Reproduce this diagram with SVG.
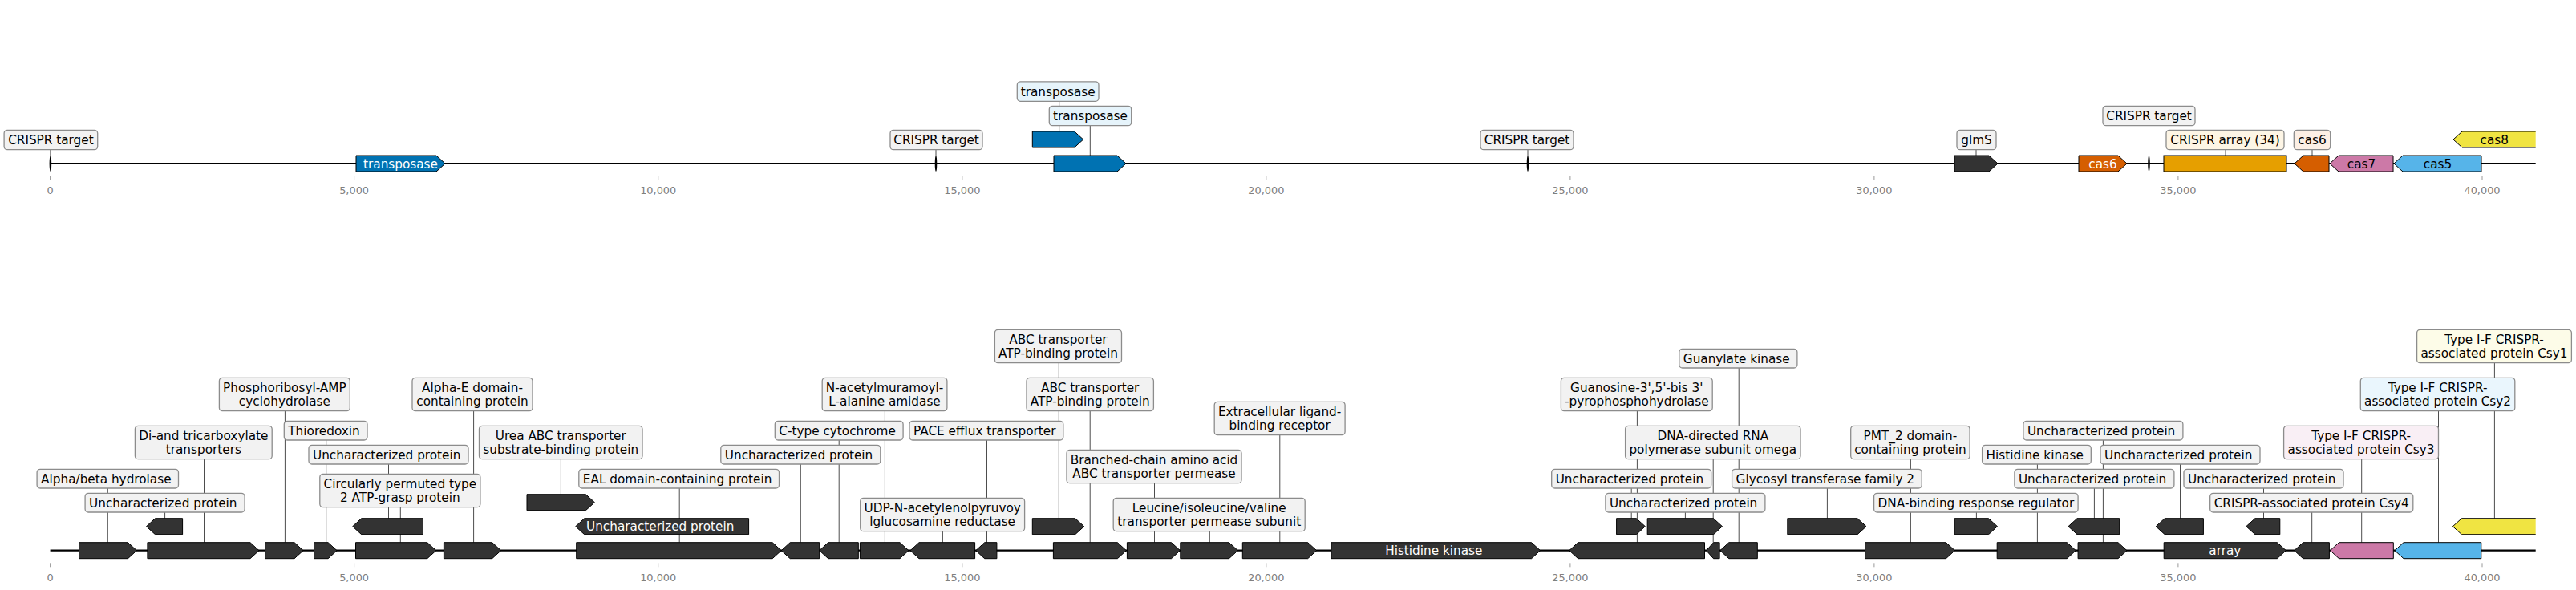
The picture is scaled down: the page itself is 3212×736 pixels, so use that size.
<svg xmlns="http://www.w3.org/2000/svg" width="3212" height="736" viewBox="0 0 3212 736">
<style>
.ax{stroke:#000;stroke-width:2.2;fill:none}
.tk{stroke:#999;stroke-width:1}
.tl{font-family:'DejaVu Sans',sans-serif;font-size:12.9px;fill:#808080;text-anchor:middle}
.cn{stroke:#4d4d4d;stroke-width:1;fill:none}
.ft{stroke:#000;stroke-width:1}
.k{fill:#333333}.bl{fill:#0072B2}.or{fill:#D55E00}.ye{fill:#E69F00}.pk{fill:#CC79A7}.sk{fill:#56B4E9}.yl{fill:#F0E442}
.bx{stroke:#8c8c8c;stroke-width:1.3}
.bg{fill:#f2f2f2}.bbl{fill:#e6f4fb}.bye{fill:#fdf5e5}.bor{fill:#fcefe5}.bpk{fill:#f9eff5}.bsk{fill:#eaf6fd}.byl{fill:#fdfce8}
.t{font-family:'DejaVu Sans',sans-serif;font-size:15.28px;fill:#000}
.m{text-anchor:middle}
.w{fill:#fff}
</style>
<defs>
<clipPath id="clipR"><rect x="0" y="0" width="3161.7" height="736"/></clipPath>
</defs>
<rect x="0" y="0" width="3212" height="736" fill="#fff"/>

<g id="axis-top">
<line class="ax" x1="62.6" y1="204" x2="3161.7" y2="204"/>
<g class="tk">
<line x1="62.6" y1="219.3" x2="62.6" y2="224"/><line x1="441.6" y1="219.3" x2="441.6" y2="224"/><line x1="820.7" y1="219.3" x2="820.7" y2="224"/><line x1="1199.8" y1="219.3" x2="1199.8" y2="224"/><line x1="1578.8" y1="219.3" x2="1578.8" y2="224"/><line x1="1957.9" y1="219.3" x2="1957.9" y2="224"/><line x1="2336.9" y1="219.3" x2="2336.9" y2="224"/><line x1="2715.9" y1="219.3" x2="2715.9" y2="224"/><line x1="3095" y1="219.3" x2="3095" y2="224"/>
</g>
<g class="tl">
<text x="62.6" y="241.7">0</text><text x="441.6" y="241.7">5,000</text><text x="820.7" y="241.7">10,000</text><text x="1199.8" y="241.7">15,000</text><text x="1578.8" y="241.7">20,000</text><text x="1957.9" y="241.7">25,000</text><text x="2336.9" y="241.7">30,000</text><text x="2715.9" y="241.7">35,000</text><text x="3095" y="241.7">40,000</text>
</g>
</g>

<g id="axis-bottom">
<line class="ax" x1="62.6" y1="686.7" x2="3161.7" y2="686.7"/>
<g class="tk">
<line x1="62.6" y1="702.3" x2="62.6" y2="707.3"/><line x1="441.6" y1="702.3" x2="441.6" y2="707.3"/><line x1="820.7" y1="702.3" x2="820.7" y2="707.3"/><line x1="1199.8" y1="702.3" x2="1199.8" y2="707.3"/><line x1="1578.8" y1="702.3" x2="1578.8" y2="707.3"/><line x1="1957.9" y1="702.3" x2="1957.9" y2="707.3"/><line x1="2336.9" y1="702.3" x2="2336.9" y2="707.3"/><line x1="2715.9" y1="702.3" x2="2715.9" y2="707.3"/><line x1="3095" y1="702.3" x2="3095" y2="707.3"/>
</g>
<g class="tl">
<text x="62.6" y="725">0</text><text x="441.6" y="725">5,000</text><text x="820.7" y="725">10,000</text><text x="1199.8" y="725">15,000</text><text x="1578.8" y="725">20,000</text><text x="1957.9" y="725">25,000</text><text x="2336.9" y="725">30,000</text><text x="2715.9" y="725">35,000</text><text x="3095" y="725">40,000</text>
</g>
</g>

<g id="connectors" class="cn">
<line x1="62.9" y1="186.7" x2="62.9" y2="194"/>
<line x1="1167" y1="186.7" x2="1167" y2="194"/>
<line x1="1320.7" y1="126.3" x2="1320.7" y2="164"/>
<line x1="1359.3" y1="156.7" x2="1359.3" y2="194"/>
<line x1="1905" y1="186.7" x2="1905" y2="194"/>
<line x1="2464" y1="186.7" x2="2464" y2="194"/>
<line x1="2679.5" y1="156.7" x2="2679.5" y2="194"/>
<line x1="2775" y1="186.7" x2="2775" y2="194"/>
<line x1="2883" y1="186.7" x2="2883" y2="194"/>
<line x1="134.3" y1="609" x2="134.3" y2="676.7"/>
<line x1="205.6" y1="639" x2="205.6" y2="646.7"/>
<line x1="254.5" y1="572.7" x2="254.5" y2="676.7"/>
<line x1="355.4" y1="512.7" x2="355.4" y2="676.7"/>
<line x1="406.7" y1="549" x2="406.7" y2="676.7"/>
<line x1="484.5" y1="579" x2="484.5" y2="646.7"/>
<line x1="499.3" y1="632.7" x2="499.3" y2="676.7"/>
<line x1="590.6" y1="512.7" x2="590.6" y2="676.7"/>
<line x1="699.4" y1="572.7" x2="699.4" y2="616.7"/>
<line x1="847.2" y1="609" x2="847.2" y2="676.7"/>
<line x1="998.3" y1="579" x2="998.3" y2="676.7"/>
<line x1="1046.2" y1="549" x2="1046.2" y2="676.7"/>
<line x1="1103.4" y1="512.7" x2="1103.4" y2="676.7"/>
<line x1="1175.4" y1="662.7" x2="1175.4" y2="676.7"/>
<line x1="1230.5" y1="549" x2="1230.5" y2="676.7"/>
<line x1="1320.3" y1="452.7" x2="1320.3" y2="646.7"/>
<line x1="1359.2" y1="512.7" x2="1359.2" y2="676.7"/>
<line x1="1439.5" y1="602.7" x2="1439.5" y2="676.7"/>
<line x1="1508.3" y1="662.7" x2="1508.3" y2="676.7"/>
<line x1="1595.8" y1="542.7" x2="1595.8" y2="676.7"/>
<line x1="2034.2" y1="609" x2="2034.2" y2="646.7"/>
<line x1="2041.4" y1="512.7" x2="2041.4" y2="676.7"/>
<line x1="2101.4" y1="639" x2="2101.4" y2="646.7"/>
<line x1="2136.2" y1="572.7" x2="2136.2" y2="676.7"/>
<line x1="2168.2" y1="459" x2="2168.2" y2="676.7"/>
<line x1="2278.4" y1="609" x2="2278.4" y2="646.7"/>
<line x1="2382.4" y1="572.7" x2="2382.4" y2="676.7"/>
<line x1="2464.4" y1="639" x2="2464.4" y2="646.7"/>
<line x1="2540.4" y1="579" x2="2540.4" y2="676.7"/>
<line x1="2611.4" y1="609" x2="2611.4" y2="646.7"/>
<line x1="2622.4" y1="549" x2="2622.4" y2="676.7"/>
<line x1="2718.5" y1="579" x2="2718.5" y2="646.7"/>
<line x1="2822.5" y1="609" x2="2822.5" y2="646.7"/>
<line x1="2882.7" y1="639" x2="2882.7" y2="676.7"/>
<line x1="2944.7" y1="572.7" x2="2944.7" y2="676.7"/>
<line x1="3040.5" y1="512.7" x2="3040.5" y2="676.7"/>
<line x1="3110.4" y1="452.7" x2="3110.4" y2="646.7"/>
</g>

<!-- top track nodes -->
<g id="t-crispr-target-1"><ellipse cx="62.9" cy="204" rx="1.3" ry="10" fill="#000"/><rect class="bx bg" x="5.1" y="162.3" width="116.6" height="24.4" rx="4"/><text class="t m" x="63.4" y="180">CRISPR target</text></g>
<g id="t-transposase-1"><polygon class="ft bl" points="444,194 544,194 555,204 544,214 444,214"/><text class="t m w" x="499.5" y="209.5">transposase</text></g>
<g id="t-crispr-target-2"><ellipse cx="1167" cy="204" rx="1.3" ry="10" fill="#000"/><rect class="bx bg" x="1110" y="162.3" width="115" height="24.4" rx="4"/><text class="t m" x="1167.5" y="180">CRISPR target</text></g>
<g id="t-transposase-2"><polygon class="ft bl" points="1287.3,164 1339.7,164 1350.7,174 1339.7,184 1287.3,184"/><rect class="bx bbl" x="1268.3" y="101.9" width="101.7" height="24.4" rx="4"/><text class="t m" x="1319.15" y="119.6">transposase</text></g>
<g id="t-transposase-3"><polygon class="ft bl" points="1314,194 1393,194 1404,204 1393,214 1314,214"/><rect class="bx bbl" x="1308.3" y="132.3" width="102.4" height="24.4" rx="4"/><text class="t m" x="1359.5" y="150">transposase</text></g>
<g id="t-crispr-target-3"><ellipse cx="1905" cy="204" rx="1.3" ry="10" fill="#000"/><rect class="bx bg" x="1846" y="162.3" width="116" height="24.4" rx="4"/><text class="t m" x="1904" y="180">CRISPR target</text></g>
<g id="t-glmS"><polygon class="ft k" points="2437,194 2480,194 2491,204 2480,214 2437,214"/><rect class="bx bg" x="2440" y="162.3" width="49" height="24.4" rx="4"/><text class="t m" x="2464.5" y="180">glmS</text></g>
<g id="t-cas6-1"><polygon class="ft or" points="2592,194 2641,194 2652,204 2641,214 2592,214"/><text class="t m w" x="2622" y="209.5">cas6</text></g>
<g id="t-crispr-target-4"><ellipse cx="2679.5" cy="204" rx="1.3" ry="10" fill="#000"/><rect class="bx bg" x="2622" y="132.3" width="115" height="24.4" rx="4"/><text class="t m" x="2679.5" y="150">CRISPR target</text></g>
<g id="t-crispr-array"><rect class="ft ye" x="2698" y="194" width="153" height="20"/><rect class="bx bye" x="2701" y="162.3" width="147" height="24.4" rx="4"/><text class="t m" x="2774.5" y="180">CRISPR array (34)</text></g>
<g id="t-cas6-2"><polygon class="ft or" points="2904,194 2872,194 2861,204 2872,214 2904,214"/><rect class="bx bor" x="2860.3" y="162.3" width="45.4" height="24.4" rx="4"/><text class="t m" x="2883" y="180">cas6</text></g>
<g id="t-cas7"><polygon class="ft pk" points="2984,194 2916,194 2905,204 2916,214 2984,214"/><text class="t m" x="2944.5" y="209.5">cas7</text></g>
<g id="t-cas5"><polygon class="ft sk" points="3094,194 2996,194 2985,204 2996,214 3094,214"/><text class="t m" x="3039.5" y="209.5">cas5</text></g>
<g id="t-cas8" clip-path="url(#clipR)"><polygon class="ft yl" points="3164,164 3070,164 3059,174 3070,184 3164,184"/><text class="t m" x="3110.3" y="179.5">cas8</text></g>

<!-- bottom track nodes -->
<g id="b1"><polygon class="ft k" points="98.5,676.7 159.5,676.7 170.5,686.7 159.5,696.7 98.5,696.7"/><rect class="bx bg" x="46.1" y="585.3" width="176.4" height="23.7" rx="4"/><text class="t" x="51.1" y="602.65">Alpha/beta hydrolase</text></g>
<g id="b2"><polygon class="ft k" points="183.9,676.7 312,676.7 323,686.7 312,696.7 183.9,696.7"/><rect class="bx bg" x="168.4" y="531.3" width="170.8" height="41.4" rx="4"/><text class="t m" x="253.8" y="549.15">Di-and tricarboxylate</text><text class="t m" x="253.8" y="565.85">transporters</text></g>
<g id="b3"><polygon class="ft k" points="330.6,676.7 367.1,676.7 378.1,686.7 367.1,696.7 330.6,696.7"/><rect class="bx bg" x="273.4" y="471.3" width="162.9" height="41.4" rx="4"/><text class="t m" x="354.85" y="489.15">Phosphoribosyl-AMP</text><text class="t m" x="354.85" y="505.85">cyclohydrolase</text></g>
<g id="b4"><polygon class="ft k" points="391.5,676.7 409.1,676.7 420.1,686.7 409.1,696.7 391.5,696.7"/><rect class="bx bg" x="354.3" y="525.3" width="103.7" height="23.7" rx="4"/><text class="t" x="359.3" y="542.65">Thioredoxin</text></g>
<g id="b5"><polygon class="ft k" points="443.5,676.7 532.8,676.7 543.8,686.7 532.8,696.7 443.5,696.7"/><rect class="bx bg" x="398.8" y="591.3" width="200.1" height="41.4" rx="4"/><text class="t m" x="498.85" y="609.15">Circularly permuted type</text><text class="t m" x="498.85" y="625.85">2 ATP-grasp protein</text></g>
<g id="b6"><polygon class="ft k" points="227.6,646.7 193.5,646.7 182.5,656.7 193.5,666.7 227.6,666.7"/><rect class="bx bg" x="106.1" y="615.3" width="199" height="23.7" rx="4"/><text class="t" x="111.1" y="632.65">Uncharacterized protein</text></g>
<g id="b7"><polygon class="ft k" points="527.5,646.7 450.7,646.7 439.7,656.7 450.7,666.7 527.5,666.7"/><rect class="bx bg" x="385" y="555.3" width="199" height="23.7" rx="4"/><text class="t" x="390" y="572.65">Uncharacterized protein</text></g>
<g id="b8"><polygon class="ft k" points="553.4,676.7 613.7,676.7 624.7,686.7 613.7,696.7 553.4,696.7"/><rect class="bx bg" x="514" y="471.3" width="150" height="41.4" rx="4"/><text class="t m" x="589" y="489.15">Alpha-E domain-</text><text class="t m" x="589" y="505.85">containing protein</text></g>
<g id="b9"><polygon class="ft k" points="718.7,676.7 963.2,676.7 974.2,686.7 963.2,696.7 718.7,696.7"/><rect class="bx bg" x="721.8" y="585.3" width="249.7" height="23.7" rx="4"/><text class="t" x="726.8" y="602.65">EAL domain-containing protein</text></g>
<g id="b10"><polygon class="ft k" points="1021.7,676.7 985.2,676.7 974.2,686.7 985.2,696.7 1021.7,696.7"/><rect class="bx bg" x="898.8" y="555.3" width="199" height="23.7" rx="4"/><text class="t" x="903.8" y="572.65">Uncharacterized protein</text></g>
<g id="b11"><polygon class="ft k" points="1070.3,676.7 1032.7,676.7 1021.7,686.7 1032.7,696.7 1070.3,696.7"/><rect class="bx bg" x="966.3" y="525.3" width="159.8" height="23.7" rx="4"/><text class="t" x="971.3" y="542.65">C-type cytochrome</text></g>
<g id="b12"><polygon class="ft k" points="933.6,646.7 728.7,646.7 717.7,656.7 728.7,666.7 933.6,666.7"/><text class="t m w" x="823.2" y="662.2">Uncharacterized protein</text></g>
<g id="b13"><polygon class="ft k" points="657,616.7 730.4,616.7 741.4,626.7 730.4,636.7 657,636.7"/><rect class="bx bg" x="597.5" y="531.3" width="203.5" height="41.4" rx="4"/><text class="t m" x="699.25" y="549.15">Urea ABC transporter</text><text class="t m" x="699.25" y="565.85">substrate-binding protein</text></g>
<g id="b14"><polygon class="ft k" points="1072.4,676.7 1122,676.7 1133,686.7 1122,696.7 1072.4,696.7"/><rect class="bx bg" x="1025.2" y="471.3" width="155.7" height="41.4" rx="4"/><text class="t m" x="1103.05" y="489.15">N-acetylmuramoyl-</text><text class="t m" x="1103.05" y="505.85">L-alanine amidase</text></g>
<g id="b15"><polygon class="ft k" points="1215.6,676.7 1146,676.7 1135,686.7 1146,696.7 1215.6,696.7"/><rect class="bx bg" x="1072.7" y="621.3" width="204.9" height="41.4" rx="4"/><text class="t m" x="1175.15" y="639.15">UDP-N-acetylenolpyruvoy</text><text class="t m" x="1175.15" y="655.85">lglucosamine reductase</text></g>
<g id="b16"><polygon class="ft k" points="1242.9,676.7 1227.7,676.7 1216.7,686.7 1227.7,696.7 1242.9,696.7"/><rect class="bx bg" x="1134" y="525.3" width="191.8" height="23.7" rx="4"/><text class="t" x="1139" y="542.65">PACE efflux transporter</text></g>
<g id="b17"><polygon class="ft k" points="1313.4,676.7 1393.4,676.7 1404.4,686.7 1393.4,696.7 1313.4,696.7"/><rect class="bx bg" x="1280" y="471.3" width="158.4" height="41.4" rx="4"/><text class="t m" x="1359.2" y="489.15">ABC transporter</text><text class="t m" x="1359.2" y="505.85">ATP-binding protein</text></g>
<g id="b18"><polygon class="ft k" points="1405.4,676.7 1460.5,676.7 1471.5,686.7 1460.5,696.7 1405.4,696.7"/><rect class="bx bg" x="1330" y="561.3" width="218" height="41.4" rx="4"/><text class="t m" x="1439" y="579.15">Branched-chain amino acid</text><text class="t m" x="1439" y="595.85">ABC transporter permease</text></g>
<g id="b19"><polygon class="ft k" points="1471.8,676.7 1532.5,676.7 1543.5,686.7 1532.5,696.7 1471.8,696.7"/><rect class="bx bg" x="1388.2" y="621.3" width="239" height="41.4" rx="4"/><text class="t m" x="1507.7" y="639.15">Leucine/isoleucine/valine</text><text class="t m" x="1507.7" y="655.85">transporter permease subunit</text></g>
<g id="b20"><polygon class="ft k" points="1549.3,676.7 1630.7,676.7 1641.7,686.7 1630.7,696.7 1549.3,696.7"/><rect class="bx bg" x="1514.2" y="501.3" width="162.9" height="41.4" rx="4"/><text class="t m" x="1595.65" y="519.15">Extracellular ligand-</text><text class="t m" x="1595.65" y="535.85">binding receptor</text></g>
<g id="b21"><polygon class="ft k" points="1287.3,646.7 1340.7,646.7 1351.7,656.7 1340.7,666.7 1287.3,666.7"/><rect class="bx bg" x="1240.4" y="411.3" width="158.1" height="41.4" rx="4"/><text class="t m" x="1319.45" y="429.15">ABC transporter</text><text class="t m" x="1319.45" y="445.85">ATP-binding protein</text></g>
<g id="b22"><polygon class="ft k" points="1659.9,676.7 1909.6,676.7 1920.6,686.7 1909.6,696.7 1659.9,696.7"/><text class="t m w" x="1787.8" y="692.2">Histidine kinase</text></g>
<g id="b23"><polygon class="ft k" points="2125.5,676.7 1967.7,676.7 1956.7,686.7 1967.7,696.7 2125.5,696.7"/><rect class="bx bg" x="1946.4" y="471.3" width="188.8" height="41.4" rx="4"/><text class="t m" x="2040.8" y="489.15">Guanosine-3',5'-bis 3'</text><text class="t m" x="2040.8" y="505.85">-pyrophosphohydrolase</text></g>
<g id="b24"><polygon class="ft k" points="2144.1,676.7 2136.5,676.7 2127.6,686.7 2136.5,696.7 2144.1,696.7"/><rect class="bx bg" x="2026.6" y="531.3" width="218.4" height="41.4" rx="4"/><text class="t m" x="2135.8" y="549.15">DNA-directed RNA</text><text class="t m" x="2135.8" y="565.85">polymerase subunit omega</text></g>
<g id="b25"><polygon class="ft k" points="2015.6,646.7 2040.4,646.7 2051.4,656.7 2040.4,666.7 2015.6,666.7"/><rect class="bx bg" x="1934.7" y="585.3" width="199" height="23.7" rx="4"/><text class="t" x="1939.7" y="602.65">Uncharacterized protein</text></g>
<g id="b26"><polygon class="ft k" points="2054.2,646.7 2136.5,646.7 2147.5,656.7 2136.5,666.7 2054.2,666.7"/><rect class="bx bg" x="2001.9" y="615.3" width="199" height="23.7" rx="4"/><text class="t" x="2006.9" y="632.65">Uncharacterized protein</text></g>
<g id="b27"><polygon class="ft k" points="2191.3,676.7 2155.8,676.7 2144.8,686.7 2155.8,696.7 2191.3,696.7"/><rect class="bx bg" x="2093.8" y="435.3" width="147.1" height="23.7" rx="4"/><text class="t" x="2098.8" y="452.65">Guanylate kinase</text></g>
<g id="b28"><polygon class="ft k" points="2325.6,676.7 2426.5,676.7 2437.5,686.7 2426.5,696.7 2325.6,696.7"/><rect class="bx bg" x="2307.7" y="531.3" width="148.4" height="41.4" rx="4"/><text class="t m" x="2381.9" y="549.15">PMT_2 domain-</text><text class="t m" x="2381.9" y="565.85">containing protein</text></g>
<g id="b29"><polygon class="ft k" points="2490.2,676.7 2577.3,676.7 2588.3,686.7 2577.3,696.7 2490.2,696.7"/><rect class="bx bg" x="2471.6" y="555.3" width="135.7" height="23.7" rx="4"/><text class="t" x="2476.6" y="572.65">Histidine kinase</text></g>
<g id="b30"><polygon class="ft k" points="2591.1,676.7 2641,676.7 2652,686.7 2641,696.7 2591.1,696.7"/><rect class="bx bg" x="2522.9" y="525.3" width="199" height="23.7" rx="4"/><text class="t" x="2527.9" y="542.65">Uncharacterized protein</text></g>
<g id="b31"><polygon class="ft k" points="2228.8,646.7 2316,646.7 2327,656.7 2316,666.7 2228.8,666.7"/><rect class="bx bg" x="2159.6" y="585.3" width="236.6" height="23.7" rx="4"/><text class="t" x="2164.6" y="602.65">Glycosyl transferase family 2</text></g>
<g id="b32"><polygon class="ft k" points="2437.2,646.7 2479.5,646.7 2490.5,656.7 2479.5,666.7 2437.2,666.7"/><rect class="bx bg" x="2336.6" y="615.3" width="254.5" height="23.7" rx="4"/><text class="t" x="2341.6" y="632.65">DNA-binding response regulator</text></g>
<g id="b33"><polygon class="ft k" points="2642.7,646.7 2590,646.7 2579,656.7 2590,666.7 2642.7,666.7"/><rect class="bx bg" x="2511.9" y="585.3" width="199" height="23.7" rx="4"/><text class="t" x="2516.9" y="602.65">Uncharacterized protein</text></g>
<g id="b34"><polygon class="ft k" points="2698.2,676.7 2839.4,676.7 2850.4,686.7 2839.4,696.7 2698.2,696.7"/><text class="t m w" x="2774.3" y="692.2">array</text></g>
<g id="b35"><polygon class="ft k" points="2904.4,676.7 2871.7,676.7 2860.7,686.7 2871.7,696.7 2904.4,696.7"/><rect class="bx bg" x="2755.7" y="615.3" width="253.1" height="23.7" rx="4"/><text class="t" x="2760.7" y="632.65">CRISPR-associated protein Csy4</text></g>
<g id="b36"><polygon class="ft pk" points="2984.3,676.7 2916.5,676.7 2905.5,686.7 2916.5,696.7 2984.3,696.7"/><rect class="bx bpk" x="2847.6" y="531.3" width="192.9" height="41.4" rx="4"/><text class="t m" x="2944.05" y="549.15">Type I-F CRISPR-</text><text class="t m" x="2944.05" y="565.85">associated protein Csy3</text></g>
<g id="b37"><polygon class="ft sk" points="3093.8,676.7 2997,676.7 2986,686.7 2997,696.7 3093.8,696.7"/><rect class="bx bsk" x="2943.3" y="471.3" width="192.5" height="41.4" rx="4"/><text class="t m" x="3039.55" y="489.15">Type I-F CRISPR-</text><text class="t m" x="3039.55" y="505.85">associated protein Csy2</text></g>
<g id="b38"><polygon class="ft k" points="2747.4,646.7 2699.2,646.7 2688.2,656.7 2699.2,666.7 2747.4,666.7"/><rect class="bx bg" x="2619" y="555.3" width="199" height="23.7" rx="4"/><text class="t" x="2624" y="572.65">Uncharacterized protein</text></g>
<g id="b39"><polygon class="ft k" points="2842.8,646.7 2811.8,646.7 2800.8,656.7 2811.8,666.7 2842.8,666.7"/><rect class="bx bg" x="2723" y="585.3" width="199" height="23.7" rx="4"/><text class="t" x="2728" y="602.65">Uncharacterized protein</text></g>
<g id="b40"><polygon class="ft yl" clip-path="url(#clipR)" points="3164,646.7 3069.4,646.7 3058.4,656.7 3069.4,666.7 3164,666.7"/><rect class="bx byl" x="3013.6" y="411.3" width="192.8" height="41.4" rx="4"/><text class="t m" x="3110" y="429.15">Type I-F CRISPR-</text><text class="t m" x="3110" y="445.85">associated protein Csy1</text></g>
</svg>
